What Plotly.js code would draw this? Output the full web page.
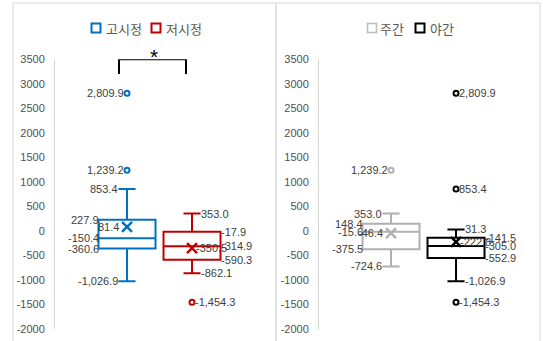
<!DOCTYPE html>
<html>
<head>
<meta charset="utf-8">
<script src="https://cdn.plot.ly/plotly-3.0.1.min.js"></script>
<style>
  html, body { margin: 0; padding: 0; background: #fff; }
  #chart { width: 543px; height: 341px; }
</style>
</head>
<body>
<div id="chart"></div>
<script>
// Box-plot statistics per group (고시정 / 저시정 on the left, 주간 / 야간 on the right)
const groups       = ['고시정', '저시정', '주간', '야간'];
const upperWhisker = [853.4, 353.0, 353.0, 31.3];
const q3           = [227.9, -17.9, 148.4, -141.5];
const median       = [-150.4, -314.9, -15.6, -305.0];
const mean         = [81.4, -350.5, -46.4, -222.8];
const q1           = [-360.6, -590.3, -375.5, -552.9];
const lowerWhisker = [-1026.9, -862.1, -724.6, -1026.9];
const outliers     = [[2809.9, 1239.2], [-1454.3], [1239.2], [2809.9, 853.4, -1454.3]];
const yTicks       = [3500, 3000, 2500, 2000, 1500, 1000, 500, 0, -500, -1000, -1500, -2000];

// Styling and placement
const colors   = ['#0070C0', '#C00000', '#B0B0B0', '#000000'];
const xAxisOf  = ['x', 'x', 'x2', 'x2'];
const yAxisOf  = ['y', 'y', 'y2', 'y2'];
const slot     = [0, 1, 0, 1];
const labelSide = ['left', 'right', 'left', 'right'];

const W = 543, H = 341;
const pxX = v => v / W;
const pxY = v => 1 - v / H;

const fmt = v => v.toLocaleString('en-US', { minimumFractionDigits: 1, maximumFractionDigits: 1 });

const BOX_W = 0.877;       // box width in axis units
const UNIT = 65;           // pixels per axis unit
const LABEL_FONT = { family: 'Liberation Sans, Arial, sans-serif', size: 11, color: '#404040' };

const traces = [];
const annotations = [];

groups.forEach((g, i) => {
  const c = colors[i];
  traces.push({
    type: 'box', name: g, x: [slot[i]],
    q1: [q1[i]], median: [median[i]], q3: [q3[i]],
    lowerfence: [lowerWhisker[i]], upperfence: [upperWhisker[i]],
    boxpoints: false, width: BOX_W, whiskerwidth: 0.3,
    line: { color: c, width: 2 }, fillcolor: 'rgba(255,255,255,0)',
    xaxis: xAxisOf[i], yaxis: yAxisOf[i], showlegend: false, hoverinfo: 'skip'
  });
  traces.push({
    type: 'scatter', mode: 'markers', x: [slot[i]], y: [mean[i]],
    marker: { symbol: 'x-thin', size: 10, color: c, line: { color: c, width: 2.5 } },
    xaxis: xAxisOf[i], yaxis: yAxisOf[i], showlegend: false, cliponaxis: false, hoverinfo: 'skip'
  });
  traces.push({
    type: 'scatter', mode: 'markers', x: outliers[i].map(() => slot[i]), y: outliers[i],
    marker: { symbol: 'circle-open', size: 5, color: c, line: { color: c, width: 2 } },
    xaxis: xAxisOf[i], yaxis: yAxisOf[i], showlegend: false, cliponaxis: false, hoverinfo: 'skip'
  });

  const dir = labelSide[i] === 'left' ? -1 : 1;
  const anchor = labelSide[i] === 'left' ? 'right' : 'left';
  const boxEdge = BOX_W * UNIT / 2;
  const capEdge = 0.3 * BOX_W * UNIT / 2;
  const items = [
    [upperWhisker[i], capEdge],
    [q3[i], boxEdge],
    [median[i], boxEdge],
    [q1[i], boxEdge],
    [lowerWhisker[i], capEdge],
    [mean[i], dir < 0 ? 8 : 4]
  ];
  outliers[i].forEach(o => items.push([o, 3]));
  items.forEach(([v, off]) => {
    annotations.push({
      xref: xAxisOf[i], yref: yAxisOf[i], x: slot[i], y: v,
      text: fmt(v), showarrow: false, xanchor: anchor, yanchor: 'middle',
      xshift: dir * off, font: LABEL_FONT, borderpad: 0, borderwidth: 0
    });
  });
});

// Significance marker between 고시정 and 저시정
annotations.push({
  xref: 'x', yref: 'y', x: 0.415, y: 3500, yshift: -10, text: '*', showarrow: false,
  font: { family: 'Liberation Sans, Arial, sans-serif', size: 21, color: '#000' },
  xanchor: 'center', yanchor: 'bottom', borderpad: 0
});

// Legends drawn per panel
const legendItems = [
  { label: '고시정', color: colors[0], sq: 96, tx: 105, lw: 2 },
  { label: '저시정', color: colors[1], sq: 156, tx: 165, lw: 2 },
  { label: '주간', color: '#BDBDBD', sq: 372, tx: 379, lw: 1.5 },
  { label: '야간', color: colors[3], sq: 420, tx: 429, lw: 2 }
];
const shapes = [];
legendItems.forEach(it => {
  shapes.push({
    type: 'rect', xref: 'paper', yref: 'paper',
    x0: pxX(it.sq - 4.5), x1: pxX(it.sq + 4.5), y0: pxY(32.5), y1: pxY(23.5),
    line: { color: it.color, width: it.lw }, fillcolor: 'rgba(255,255,255,0)'
  });
  annotations.push({
    xref: 'paper', yref: 'paper', x: pxX(it.tx), y: pxY(28), text: it.label,
    showarrow: false, xanchor: 'left', yanchor: 'middle', borderpad: 0,
    font: { family: 'Noto Sans CJK KR, sans-serif', size: 13, color: '#595959' }
  });
});

// Bracket above the first pair of boxes
shapes.push({
  type: 'path', xref: 'x', yref: 'y',
  path: 'M -0.123 3200 L -0.123 3500 L 0.907 3500 L 0.907 3200',
  line: { color: '#000', width: 2 }
});

// Panel frames
shapes.push({ type: 'rect', xref: 'paper', yref: 'paper', x0: pxX(13), x1: pxX(276), y0: -0.05, y1: pxY(3),
  line: { color: '#D9D9D9', width: 1 }, layer: 'below' });
shapes.push({ type: 'rect', xref: 'paper', yref: 'paper', x0: pxX(276), x1: pxX(540), y0: -0.05, y1: pxY(3),
  line: { color: '#D9D9D9', width: 1 }, layer: 'below' });

const yDomain = [pxY(329), pxY(59.3)];
const xRange = [-1.108, -1.108 + 207 / UNIT];
const yAxisBase = {
  range: [-2000, 3500], domain: yDomain, tickmode: 'array',
  tickvals: yTicks, ticktext: yTicks.map(String),
  showgrid: false, zeroline: false, showline: true, linecolor: '#D9D9D9', linewidth: 1,
  ticks: '', ticklabelstandoff: 7,
  tickfont: { family: 'Liberation Sans, Arial, sans-serif', size: 11, color: '#505050' }
};
const xAxisBase = {
  range: xRange, type: 'linear', showgrid: false, zeroline: false, showline: false,
  showticklabels: false, ticks: ''
};

const layout = {
  width: W, height: H,
  margin: { l: 0, r: 0, t: 0, b: 0 },
  paper_bgcolor: '#FFFFFF', plot_bgcolor: 'rgba(0,0,0,0)',
  showlegend: false,
  xaxis: Object.assign({}, xAxisBase, { domain: [pxX(55), pxX(262)], anchor: 'y' }),
  xaxis2: Object.assign({}, xAxisBase, { domain: [pxX(319), pxX(526)], anchor: 'y2' }),
  yaxis: Object.assign({}, yAxisBase, { anchor: 'x' }),
  yaxis2: Object.assign({}, yAxisBase, { anchor: 'x2' }),
  shapes: shapes,
  annotations: annotations
};

Plotly.newPlot('chart', traces, layout, { staticPlot: true, displayModeBar: false });
</script>
</body>
</html>
